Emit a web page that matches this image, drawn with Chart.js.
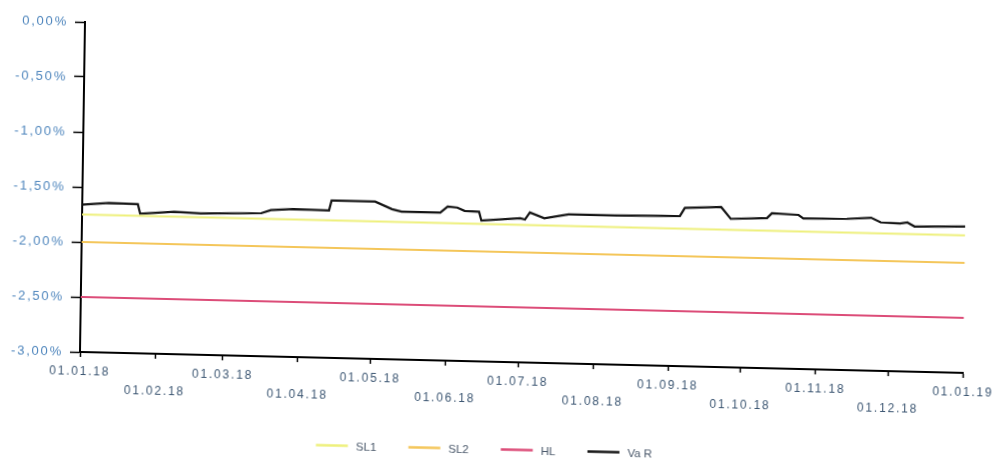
<!DOCTYPE html>
<html>

<head>
    <title>VaR</title>
    <meta charset="UTF-8">
    <script src="https://cdn.jsdelivr.net/npm/chart.js@4"></script>
    <style>
        body { margin: 0; background: #fff; overflow: hidden; }
        #myChart {
            display: block;
            transform-origin: 80px 352px;
            transform: matrix(1, 0.0237, -0.0152, 1, 0, 0);
        }
    </style>
</head>

<body>
    <canvas id="myChart" width="999" height="459"></canvas>

    <script>
        // month starts (days since 01.01.18) and their labels
        const monthDays = [0, 31, 59, 90, 120, 151, 181, 212, 243, 273, 304, 334, 365];
        const monthLabels = ['01.01.18', '01.02.18', '01.03.18', '01.04.18', '01.05.18', '01.06.18',
            '01.07.18', '01.08.18', '01.09.18', '01.10.18', '01.11.18', '01.12.18', '01.01.19'];
        const yTicks = [0, -0.5, -1, -1.5, -2, -2.5, -3];

        // limits (flat over the year)
        const limitDays = [0, 365];
        const sl1 = [-1.75, -1.75];
        const sl2 = [-2.00, -2.00];
        const hl = [-2.50, -2.50];

        // VaR
        const varDays = [0, 11, 23, 24, 38, 49, 74, 78, 87, 102, 103, 121, 128, 132, 148, 151, 155, 158, 164, 165,
            181, 183, 185, 191, 201, 220, 247, 249, 264, 268, 283, 285, 296, 298, 316, 326, 330, 338, 341, 344, 365];
        const varValues = [-1.66, -1.64, -1.645, -1.73, -1.705, -1.715, -1.70, -1.67, -1.655, -1.66, -1.57, -1.57,
            -1.635, -1.655, -1.655, -1.60, -1.607, -1.635, -1.64, -1.72, -1.69, -1.70, -1.635, -1.685, -1.645,
            -1.645, -1.635, -1.56, -1.545, -1.65, -1.635, -1.59, -1.60, -1.63, -1.625, -1.61, -1.65, -1.655,
            -1.645, -1.68, -1.67];

        function pts(xs, ys) {
            return xs.map((x, i) => ({ x: x, y: ys[i] }));
        }

        // scanned axis labels are wide-spaced
        const spacing = {
            id: 'spacing',
            beforeUpdate(chart) { chart.ctx.letterSpacing = '1.8px'; },
            beforeDraw(chart) { chart.ctx.letterSpacing = '1.8px'; }
        };

        // line legend under the axis, items spaced wide
        const lineLegend = {
            id: 'lineLegend',
            afterDraw(chart) {
                const c = chart.ctx;
                const sets = chart.data.datasets;
                c.save();
                c.letterSpacing = '0px';
                c.font = '11.5px "Liberation Sans"';
                c.textBaseline = 'middle';
                const widths = sets.map(d => 40 + c.measureText(d.label).width);
                const gap = 32;
                const total = widths.reduce((a, b) => a + b, 0) + gap * (sets.length - 1);
                let x = chart.width / 2 - 14 - total / 2;
                const y = 441;
                sets.forEach((d, i) => {
                    c.strokeStyle = d.borderColor;
                    c.lineWidth = d.borderWidth + 0.5;
                    c.beginPath();
                    c.moveTo(x, y - 1.5);
                    c.lineTo(x + 32, y - 1.5);
                    c.stroke();
                    c.fillStyle = '#4a586a';
                    c.fillText(d.label, x + 40, y);
                    x += widths[i] + gap;
                });
                c.restore();
            }
        };

        const line = (label, color, xs, ys, w) => ({
            label: label,
            data: pts(xs, ys),
            borderColor: color,
            backgroundColor: color,
            borderWidth: w,
            pointRadius: 0,
            tension: 0
        });

        const ctx = document.getElementById('myChart').getContext('2d');
        const chart = new Chart(ctx, {
            type: 'line',
            data: {
                datasets: [
                    line('SL1', '#eef07c', limitDays, sl1, 2),
                    line('SL2', '#f4c65a', limitDays, sl2, 2),
                    line('HL', '#dc4c78', limitDays, hl, 2),
                    line('Va R', '#151515', varDays, varValues, 2.2)
                ]
            },
            options: {
                responsive: false,
                devicePixelRatio: 1,
                animation: false,
                layout: { padding: { left: 0, right: 34, top: 22, bottom: 0 } },
                plugins: {
                    tooltip: { enabled: false },
                    legend: { display: false }
                },
                scales: {
                    x: {
                        type: 'linear',
                        min: 0,
                        max: 365,
                        afterBuildTicks: s => { s.ticks = monthDays.map(v => ({ value: v })); },
                        afterFit: s => { s.height = 107; },
                        border: { color: '#000', width: 2 },
                        grid: { drawOnChartArea: false, color: '#000', tickLength: 5, tickWidth: 1.5 },
                        ticks: {
                            autoSkip: false,
                            maxRotation: 0,
                            padding: 5,
                            color: '#3d5773',
                            font: { family: 'Liberation Sans', size: 12, lineHeight: 1.55 },
                            callback: (v, i) => i % 2 ? ['', monthLabels[i]] : monthLabels[i]
                        }
                    },
                    y: {
                        min: -3,
                        max: 0,
                        afterBuildTicks: s => { s.ticks = yTicks.map(v => ({ value: v })); },
                        afterFit: s => { s.width = 80; },
                        border: { color: '#000', width: 2 },
                        grid: { drawOnChartArea: false, color: '#000', tickLength: 10, tickWidth: 1.5 },
                        ticks: {
                            padding: 7,
                            color: '#4f86bd',
                            font: { family: 'Liberation Sans', size: 13 },
                            callback: v => v.toFixed(2).replace('.', ',') + '%'
                        }
                    }
                }
            },
            plugins: [spacing, lineLegend]
        });
    </script>

</body>

</html>
